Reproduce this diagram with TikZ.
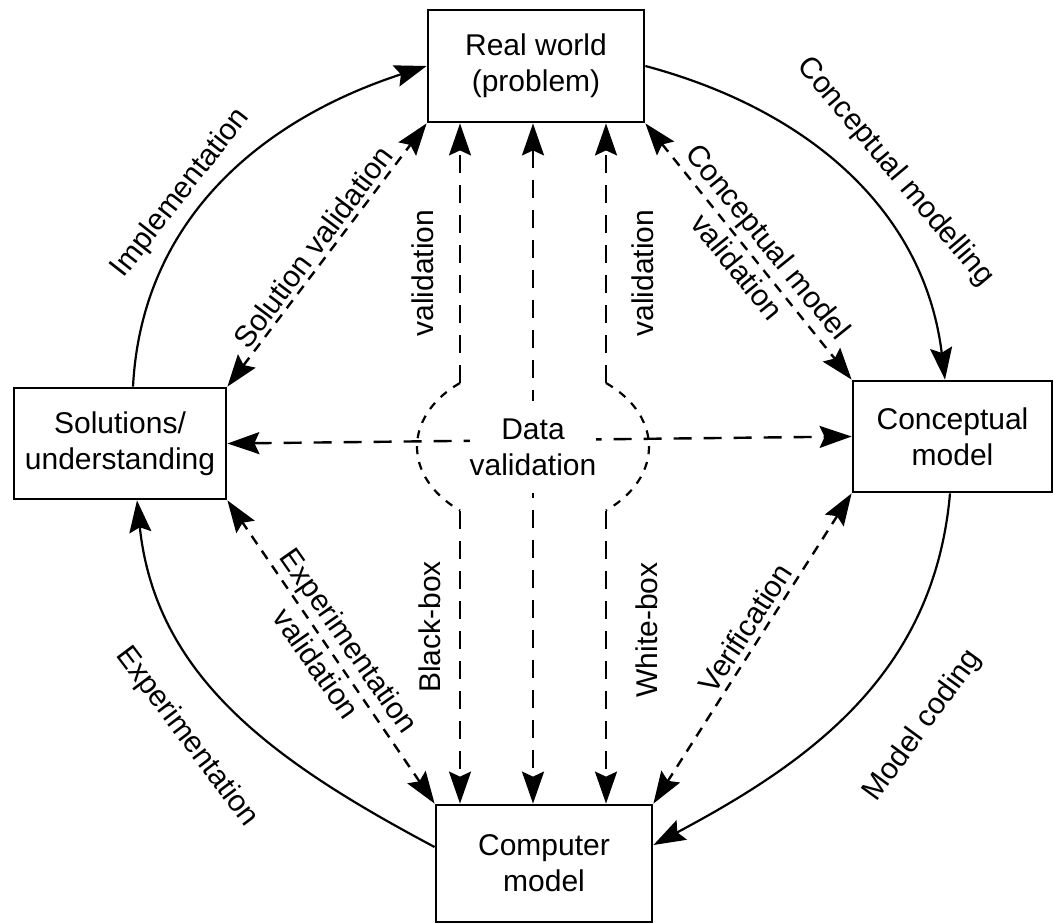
\documentclass[tikz,border=0pt]{standalone}
\usepackage{fontspec}
\setmainfont{Liberation Sans}
\usetikzlibrary{arrows.meta}

\begin{document}
\begin{tikzpicture}[x=0.5pt,y=-0.5pt,
	font=\fontsize{15}{18}\selectfont,
	>={Stealth[length=16pt,width=11pt,inset=2.5pt]},
	box/.style={draw, line width=1.4pt, align=center, inner sep=0pt},
	flow/.style={line width=1.1pt, ->},
	vline/.style={line width=1.2pt, dash pattern=on 9pt off 6pt, ->},
	hline/.style={line width=1.2pt, dash pattern=on 9pt off 6pt, <->},
	dline/.style={line width=1.2pt, dash pattern=on 5pt off 4pt, <->},
	cline/.style={line width=1.1pt, dash pattern=on 4pt off 4pt},
	lbl/.style={align=center, inner sep=0pt}]
	\useasboundingbox (0,0) rectangle (1054,923);
	% Boxes
	\node[box, minimum width=108pt, minimum height=56pt] (rw) at (536,66) {Real world\\(problem)};
	\node[box, minimum width=106pt, minimum height=55.5pt] (sol) at (120,443.5) {Solutions/\\understanding};
	\node[box, minimum width=99.5pt, minimum height=55.5pt] (cm) at (952.5,436.5) {Conceptual\\model};
	\node[box, minimum width=108pt, minimum height=58.5pt] (comp) at (544,863.5) {Computer\\model};
	% Outer cycle
	\draw[flow] ([xshift=6.5pt]sol.north) to[out=87,in=198] (rw.west);
	\draw[flow] (rw.east) to[out=-15,in=97] ([xshift=-3.75pt]cm.north);
	\draw[flow] ([xshift=-1.25pt]cm.south) to[out=-95,in=28] ([yshift=9.25pt]comp.east);
	\draw[flow] ([yshift=8.25pt]comp.west) to[out=152,in=-84] ([xshift=8.5pt]sol.south);
	% Diagonal validations
	\draw[dline] (sol.north east) -- (rw.south west);
	\draw[dline] (rw.south east) -- (cm.north west);
	\draw[dline] (cm.south west) -- (comp.north east);
	\draw[dline] (comp.north west) -- (sol.south east);
	% Data validation
	\coordinate (dc) at (533,447);
	\coordinate (lt) at (460,383);
	\coordinate (lb) at (460,511);
	\coordinate (rt) at (606,383);
	\coordinate (rb) at (606,511);
	\draw[vline] (lt) -- (lt |- rw.south);
	\draw[vline] (lb) -- (lb |- comp.north);
	\draw[vline] (rt) -- (rt |- rw.south);
	\draw[vline] (rb) -- (rb |- comp.north);
	\draw[cline] (lt) arc[start angle=231, end angle=129, x radius=116, y radius=82];
	\draw[cline] (rt) arc[start angle=-51, end angle=51, x radius=116, y radius=82];
	\draw[hline] (sol.east) -- (cm.west);
	\draw[hline] (dc |- rw.south) -- (dc |- comp.north);
	\node[lbl, fill=white, inner ysep=9pt] (dv) at (dc) {Data\\validation};
	% Labels
	\node[lbl, rotate=52] (impl) at (181,193) {Implementation};
	\node[lbl, rotate=-50] (cmod) at (895,172) {Conceptual modelling};
	\node[lbl, rotate=54] (code) at (923,726) {Model coding};
	\node[lbl, rotate=-53] (expe) at (187,737) {Experimentation};
	\node[lbl, rotate=53] (solv) at (313,247) {Solution validation};
	\node[lbl, rotate=-51] (cmv) at (753,254) {Conceptual model\\[2pt]validation};
	\node[lbl, rotate=57] (veri) at (745,628) {Verification};
	\node[lbl, rotate=-55] (expv) at (333,652) {Experimentation\\[2pt]validation};
	\node[lbl, rotate=90] (lval) at (423,273) {validation};
	\node[lbl, rotate=90] (rval) at (643,273) {validation};
	\node[lbl, rotate=90] (bbox) at (430,627) {Black-box};
	\node[lbl, rotate=90] (wbox) at (647,630) {White-box};
\end{tikzpicture}
\end{document}
